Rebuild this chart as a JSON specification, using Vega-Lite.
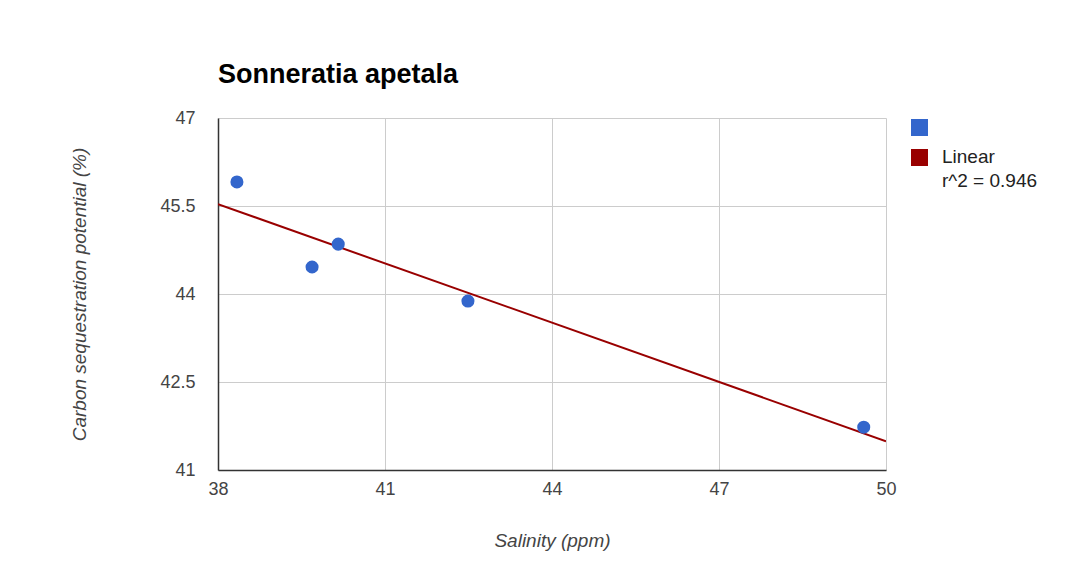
{
  "$schema": "https://vega.github.io/schema/vega-lite/v6.json",
  "autosize": {"type": "none"},
  "width": 668,
  "height": 352,
  "padding": {"left": 218, "top": 118, "right": 200, "bottom": 109},
  "background": "white",
  "title": {
    "text": "Sonneratia apetala",
    "anchor": "start",
    "frame": "group",
    "font": "Liberation Sans",
    "fontSize": 27,
    "fontWeight": "bold",
    "color": "#000000",
    "offset": 20
  },
  "data": {
    "values": [
      {"salinity": 38.34, "carbon": 45.91},
      {"salinity": 39.69, "carbon": 44.46},
      {"salinity": 40.16, "carbon": 44.85},
      {"salinity": 42.49, "carbon": 43.88},
      {"salinity": 49.6, "carbon": 41.73}
    ]
  },
  "layer": [
    {
      "transform": [
        {"regression": "carbon", "on": "salinity", "method": "linear", "extent": [38, 50]}
      ],
      "mark": {"type": "line", "strokeWidth": 2, "clip": true},
      "encoding": {
        "x": {"field": "salinity", "type": "quantitative"},
        "y": {"field": "carbon", "type": "quantitative"},
        "color": {"datum": "Linear"}
      }
    },
    {
      "mark": {"type": "point", "filled": true, "opacity": 1, "size": 170},
      "encoding": {
        "x": {"field": "salinity", "type": "quantitative"},
        "y": {"field": "carbon", "type": "quantitative"},
        "color": {"datum": ""}
      }
    }
  ],
  "encoding": {
    "x": {
      "field": "salinity",
      "type": "quantitative",
      "title": "Salinity (ppm)",
      "scale": {"domain": [38, 50], "nice": false, "zero": false},
      "axis": {"values": [38, 41, 44, 47, 50], "format": ".1~f", "labelFlush": false, "titlePadding": 33}
    },
    "y": {
      "field": "carbon",
      "type": "quantitative",
      "title": "Carbon sequestration potential (%)",
      "scale": {"domain": [41, 47], "nice": false, "zero": false},
      "axis": {"values": [41, 42.5, 44, 45.5, 47], "format": ".1~f", "labelFlush": false, "titlePadding": 70}
    },
    "color": {
      "type": "nominal",
      "scale": {"domain": ["", "Linear"], "range": ["#3366CC", "#990000"]},
      "legend": {
        "title": null,
        "orient": "none",
        "legendX": 692,
        "legendY": 0,
        "symbolType": "square",
        "symbolSize": 289,
        "rowPadding": 10,
        "labelFont": "Liberation Sans",
        "labelFontSize": 19,
        "labelColor": "#222222",
        "labelOffset": 13,
        "labelLimit": 300,
        "labelExpr": "datum.label == 'Linear' ? ['Linear', 'r^2 = 0.946'] : ''",
        "encode": {
          "symbols": {"update": {"fill": {"scale": "color", "field": "value"}, "strokeWidth": {"value": 0}, "opacity": {"value": 1}}},
          "labels": {"update": {"baseline": {"value": "top"}, "dy": {"value": -10}, "lineHeight": {"value": 24}}}
        }
      }
    }
  },
  "config": {
    "view": {"stroke": null},
    "axis": {
      "labelFont": "Liberation Sans",
      "labelFontSize": 18,
      "labelColor": "#444444",
      "titleFont": "Liberation Sans",
      "titleFontSize": 19,
      "titleFontStyle": "italic",
      "titleFontWeight": "normal",
      "titleColor": "#444444",
      "gridColor": "#cccccc",
      "gridWidth": 1,
      "gridOpacity": 1,
      "ticks": false,
      "domainColor": "#333333",
      "domainWidth": 1.5
    },
    "axisX": {"labelPadding": 10},
    "axisY": {"labelPadding": 23}
  }
}
